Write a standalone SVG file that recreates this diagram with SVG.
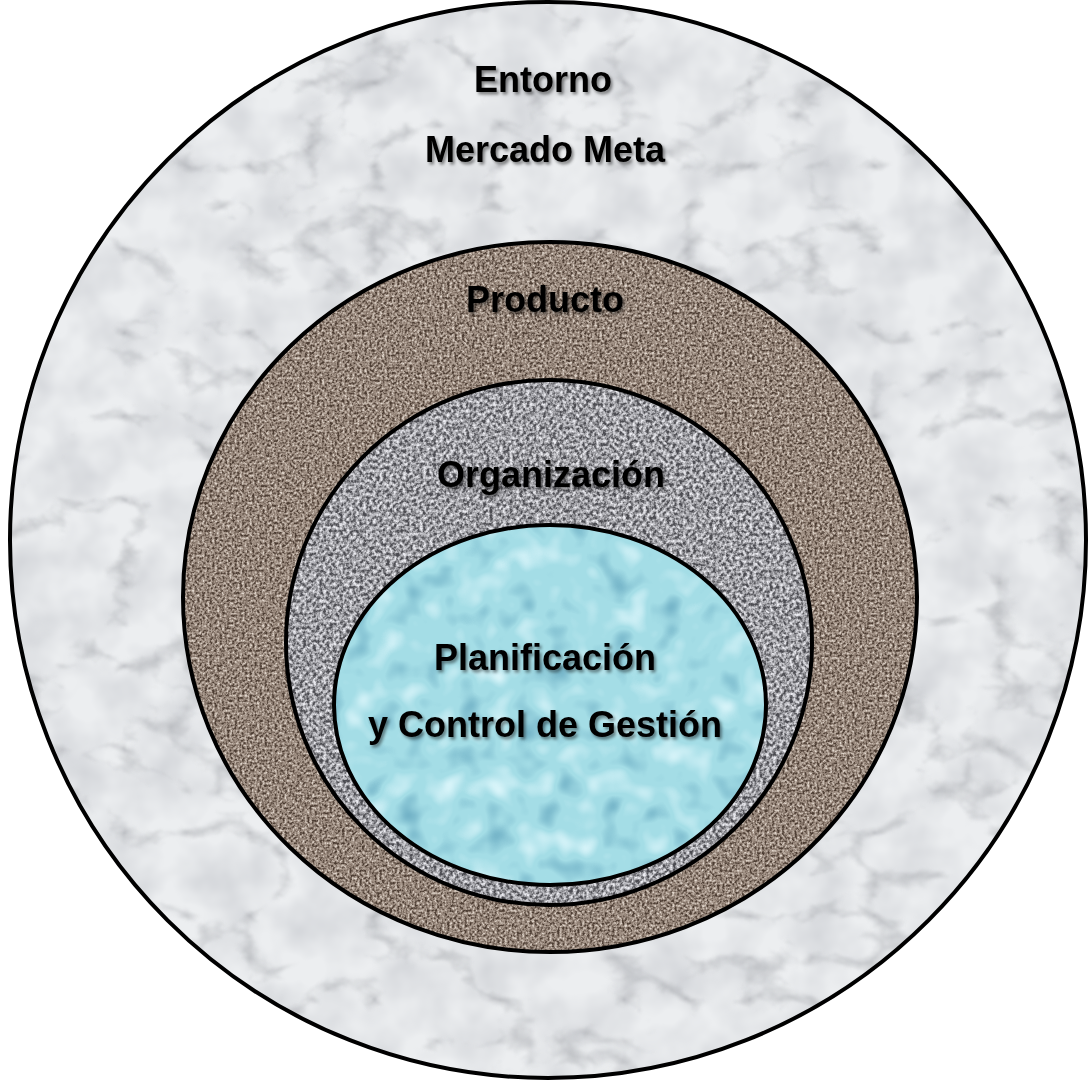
<svg xmlns="http://www.w3.org/2000/svg" width="1088" height="1082" viewBox="0 0 1088 1082">
<defs>
<style>
.ring{fill:none;stroke:#000;stroke-width:4}
.lbl{font-family:"Liberation Sans",Arial,sans-serif;font-weight:bold;font-size:36px;fill:#000;text-anchor:middle;filter:url(#shadow)}
</style>
<filter id="shadow" x="-10%" y="-30%" width="120%" height="160%">
<feDropShadow dx="2" dy="2.5" stdDeviation="1.6" flood-color="#000" flood-opacity="0.45"/>
</filter>
<filter id="marble" x="0" y="0" width="100%" height="100%" color-interpolation-filters="sRGB">
<feTurbulence type="turbulence" baseFrequency="0.008 0.012" numOctaves="5" seed="7" result="t"/>
<feColorMatrix in="t" type="matrix" values="0 0 0 0 0.58 0 0 0 0 0.59 0 0 0 0 0.61 -2.4 0 0 0 0.5" result="v"/>
<feGaussianBlur in="v" stdDeviation="1.2" result="vb"/>
<feTurbulence type="fractalNoise" baseFrequency="0.02" numOctaves="3" seed="2" result="n"/>
<feColorMatrix in="n" type="matrix" values="0 0 0 0 0.78 0 0 0 0 0.79 0 0 0 0 0.81 1.2 0 0 0 -0.4" result="cl"/>
<feComposite in="cl" in2="SourceGraphic" operator="over" result="b1"/>
<feComposite in="vb" in2="b1" operator="over" result="b2"/>
<feComposite in="b2" in2="SourceGraphic" operator="in"/>
</filter>
<filter id="granite" x="0" y="0" width="100%" height="100%" color-interpolation-filters="sRGB">
<feTurbulence type="fractalNoise" baseFrequency="0.4" numOctaves="2" seed="4" result="t"/>
<feColorMatrix in="t" type="matrix" values="0 0 0 0 0.3 0 0 0 0 0.24 0 0 0 0 0.2 -4 0 0 0 2.1" result="dk"/>
<feColorMatrix in="t" type="matrix" values="0 0 0 0 0.88 0 0 0 0 0.84 0 0 0 0 0.8 4 0 0 0 -2.2" result="lt"/>
<feComposite in="dk" in2="SourceGraphic" operator="over" result="b1"/>
<feComposite in="lt" in2="b1" operator="over" result="b2"/>
<feComposite in="b2" in2="SourceGraphic" operator="in"/>
</filter>
<filter id="gravel" x="0" y="0" width="100%" height="100%" color-interpolation-filters="sRGB">
<feTurbulence type="fractalNoise" baseFrequency="0.3" numOctaves="3" seed="9" result="t"/>
<feColorMatrix in="t" type="matrix" values="0 0 0 0 0.3 0 0 0 0 0.3 0 0 0 0 0.32 -4 0 0 0 2.15" result="dk"/>
<feColorMatrix in="t" type="matrix" values="0 0 0 0 0.93 0 0 0 0 0.93 0 0 0 0 0.95 4 0 0 0 -2.1" result="lt"/>
<feComposite in="dk" in2="SourceGraphic" operator="over" result="b1"/>
<feComposite in="lt" in2="b1" operator="over" result="b2"/>
<feComposite in="b2" in2="SourceGraphic" operator="in"/>
</filter>
<filter id="water" x="0" y="0" width="100%" height="100%" color-interpolation-filters="sRGB">
<feTurbulence type="fractalNoise" baseFrequency="0.035" numOctaves="2" seed="5" result="t"/>
<feColorMatrix in="t" type="matrix" values="0 0 0 0 0.45 0 0 0 0 0.7 0 0 0 0 0.78 -3 0 0 0 1.35" result="dk"/>
<feColorMatrix in="t" type="matrix" values="0 0 0 0 0.85 0 0 0 0 0.96 0 0 0 0 0.98 3 0 0 0 -1.6" result="lt"/>
<feComposite in="dk" in2="SourceGraphic" operator="over" result="b1"/>
<feComposite in="lt" in2="b1" operator="over" result="b2"/>
<feComposite in="b2" in2="SourceGraphic" operator="in"/>
</filter>
</defs>
<rect width="1088" height="1082" fill="#fff"/>
<g id="entorno">
<ellipse cx="548" cy="540" rx="538" ry="538" fill="#eceef0" filter="url(#marble)"/>
<ellipse class="ring" cx="548" cy="540" rx="538" ry="538"/>
<text class="lbl" x="543" y="92">Entorno</text>
<text class="lbl" x="545" y="162">Mercado Meta</text>
</g>
<g id="producto">
<ellipse cx="550" cy="597" rx="367" ry="355" fill="#9e8e82" filter="url(#granite)"/>
<ellipse class="ring" cx="550" cy="597" rx="367" ry="355"/>
<text class="lbl" x="545" y="312">Producto</text>
</g>
<g id="organizacion">
<ellipse cx="549" cy="642.5" rx="263" ry="262.5" fill="#a9a9ae" filter="url(#gravel)"/>
<ellipse class="ring" cx="549" cy="642.5" rx="263" ry="262.5"/>
<text class="lbl" x="551" y="487">Organización</text>
</g>
<g id="planificacion">
<ellipse cx="550" cy="705" rx="216" ry="180" fill="#a4dde6" filter="url(#water)"/>
<ellipse class="ring" cx="550" cy="705" rx="216" ry="180"/>
<text class="lbl" x="545" y="670">Planificación</text>
<text class="lbl" x="545" y="737">y Control de Gestión</text>
</g>
</svg>
